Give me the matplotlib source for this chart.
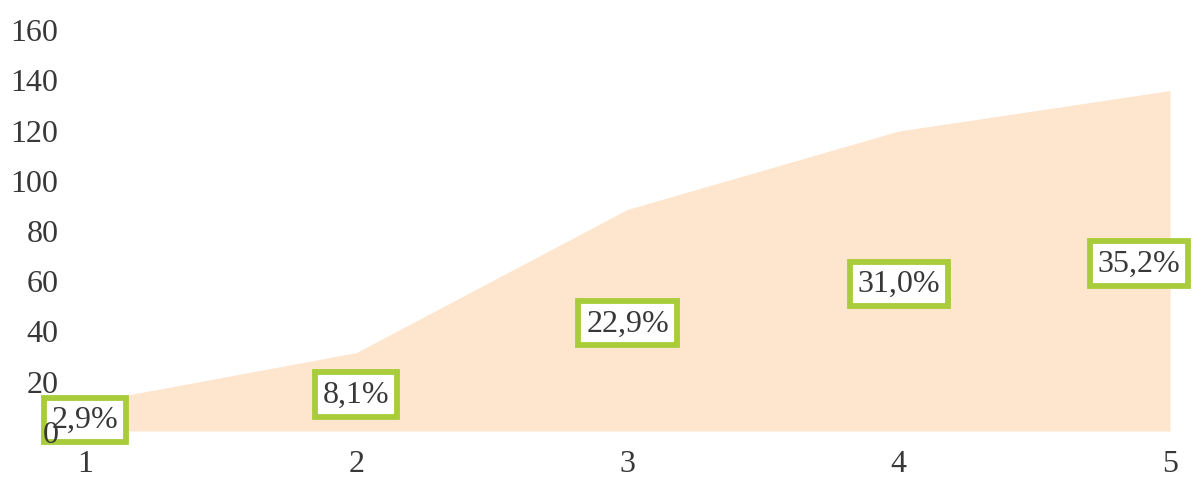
import matplotlib
matplotlib.use("Agg")
import matplotlib.pyplot as plt

x_vals = [1, 2, 3, 4, 5]
values = [11.2, 31.2, 88.2, 119.4, 135.5]
labels = ["2,9%", "8,1%", "22,9%", "31,0%", "35,2%"]
y_ticks = [0, 20, 40, 60, 80, 100, 120, 140, 160]

plt.rcParams['font.family'] = ['Liberation Serif', 'DejaVu Serif']

fig = plt.figure(figsize=(12.04, 4.85), dpi=100)
W, H = 1204, 485
left_px, right_px = 64, 1204
top_px, bottom_px = 30, 432
ax = fig.add_axes([left_px / W, 1 - bottom_px / H, (right_px - left_px) / W, (bottom_px - top_px) / H])
ax.set_axisbelow(False)

ax.fill_between(x_vals, values, 0, color="#FDE6CD", linewidth=0, zorder=1)

n = len(x_vals)
for i, (xv, v, lab) in enumerate(zip(x_vals, values, labels)):
    dx = -31 if i == n - 1 else 0
    ax.annotate(lab, xy=(xv, v / 2), xytext=(dx * 0.72, -2), textcoords="offset points",
                ha="center", va="center", fontsize=23, color="#383838", zorder=2,
                bbox=dict(boxstyle="square,pad=0.24", facecolor="white", edgecolor="#A8CC3A", linewidth=4.2))

scale = 271.25
ax.set_xlim(1 - (85 - left_px) / scale, 5 + (right_px - 1170) / scale)
ax.set_ylim(0, 160)
ax.set_xticks(x_vals)
ax.set_xticklabels([str(v) for v in x_vals])
ax.set_yticks(y_ticks)
ax.tick_params(axis="both", length=0, labelsize=23, labelcolor="#383838")
ax.tick_params(axis="x", pad=13)
ax.tick_params(axis="y", pad=4)
for s in ax.spines.values():
    s.set_visible(False)

fig.savefig("out.png", dpi=100)
